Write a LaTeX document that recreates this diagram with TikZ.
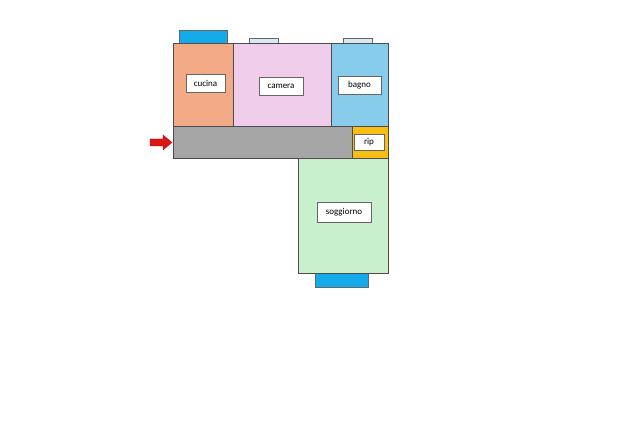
\documentclass[tikz,border=0pt]{standalone}
\usepackage{fontspec}
\setmainfont{Carlito}
\begin{document}
\begin{tikzpicture}[x=1pt,y=-1pt,
  room/.style={draw=black!70,line width=0.6pt},
  lbl/.style={draw=black!60,fill=white,line width=0.4pt,inner sep=0pt,font=\fontsize{9}{10}\selectfont},
  win/.style={draw=black!60,line width=0.5pt}]
\useasboundingbox (0,0) rectangle (640,427);
\fill[white] (0,0) rectangle (640,427);
\definecolor{cuc}{RGB}{242,170,135}
\definecolor{cam}{RGB}{241,205,236}
\definecolor{bag}{RGB}{135,205,235}
\definecolor{cor}{RGB}{166,166,166}
\definecolor{rp}{RGB}{248,190,20}
\definecolor{sog}{RGB}{200,240,205}
\definecolor{wb}{RGB}{20,170,235}
\definecolor{wl}{RGB}{220,232,242}
\definecolor{arr}{RGB}{220,20,20}
\draw[win,fill=wb] (179,30) rectangle (227,43);
\draw[win,fill=wl] (249,38) rectangle (278,43);
\draw[win,fill=wl] (343,38) rectangle (372,43);
\draw[win,fill=wb] (315,273) rectangle (368,287);
\draw[room,fill=cuc] (173,43) rectangle (233,126);
\draw[room,fill=cam] (233,43) rectangle (331,126);
\draw[room,fill=bag] (331,43) rectangle (388,126);
\draw[room,fill=cor] (173,126) rectangle (352,158);
\draw[room,fill=rp] (352,126) rectangle (388,158);
\draw[room,fill=sog] (298,158) rectangle (388,273);
\node[lbl,minimum width=39pt,minimum height=18pt] (cucina) at (205.5,83) {cucina};
\node[lbl,minimum width=44pt,minimum height=18pt] (camera) at (281,86) {camera};
\node[lbl,minimum width=43pt,minimum height=18pt] (bagno) at (359.5,85) {bagno};
\node[lbl,minimum width=30pt,minimum height=16pt] (rip) at (369,142) {rip};
\node[lbl,minimum width=54pt,minimum height=20pt] (soggiorno) at (344,212) {soggiorno};
\fill[arr,draw=arr!70!black,line width=0.3pt] (150,139) -- (163,139) -- (163,135) -- (172,142.5) -- (163,150) -- (163,146) -- (150,146) -- cycle;
\end{tikzpicture}
\end{document}
